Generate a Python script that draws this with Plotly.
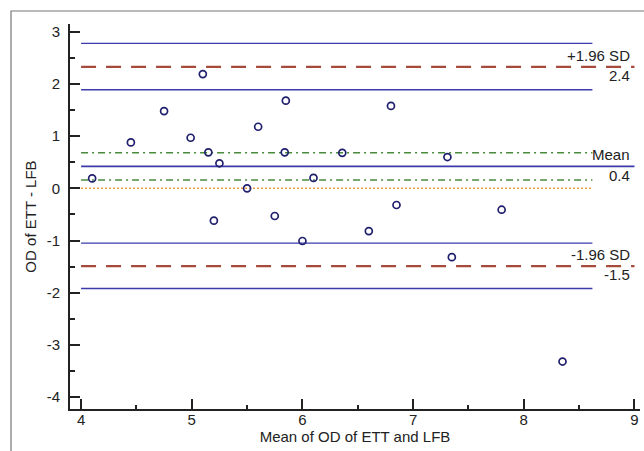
import plotly.graph_objects as go

# Data (Bland-Altman plot)
mean_x = [4.10, 4.45, 4.75, 4.99, 5.10, 5.15, 5.25, 5.20, 5.50, 5.60, 5.75, 5.85,
          5.84, 6.00, 6.10, 6.36, 6.60, 6.80, 6.85, 7.31, 7.35, 7.80, 8.35]
diff_y = [0.19, 0.88, 1.48, 0.97, 2.19, 0.69, 0.48, -0.62, 0.00, 1.18, -0.53, 1.68,
          0.69, -1.01, 0.20, 0.68, -0.82, 1.58, -0.32, 0.60, -1.32, -0.41, -3.32]

mean_diff = 0.42
upper_loa = 2.33
lower_loa = -1.49
mean_ci = [0.16, 0.68]
upper_ci = [1.89, 2.78]
lower_ci = [-1.92, -1.05]
zero_line = 0.0

x_start = 4.0
x_ci_end = 8.62
x_full_end = 9.0

x_ticks = [4, 5, 6, 7, 8, 9]
x_tick_text = ["4", "5", "6", "7", "8", "9"]
y_ticks = [-4, -3, -2, -1, 0, 1, 2, 3]
y_tick_text = ["-4", "-3", "-2", "-1", "0", "1", "2", "3"]

labels = [("+1.96 SD", 2.54), ("2.4", 2.16), ("Mean", 0.64), ("0.4", 0.24),
          ("-1.96 SD", -1.26), ("-1.5", -1.66)]

BLUE = "#3b3bab"
RED = "#a64b3c"
GREEN = "#4a8a3c"
ORANGE = "#e89a3c"
FONT = "Liberation Sans, Arial, sans-serif"

fig = go.Figure()

def hline(y, x0, x1, color, width, dash):
    fig.add_trace(go.Scatter(x=[x0, x1], y=[y, y], mode="lines",
                             line=dict(color=color, width=width, dash=dash),
                             hoverinfo="skip", showlegend=False))

for v in upper_ci + lower_ci:
    hline(v, x_start, x_ci_end, BLUE, 1.3, "solid")
hline(mean_diff, x_start, x_full_end, BLUE, 1.9, "solid")
for v in mean_ci:
    hline(v, x_start, x_ci_end, GREEN, 1.5, "7px,4px,2px,4px")
hline(zero_line, x_start, x_ci_end, ORANGE, 1.5, "2px,2px")
for v in [upper_loa, lower_loa]:
    hline(v, x_start, x_full_end, RED, 2.3, "15px,10px")

fig.add_trace(go.Scatter(x=mean_x, y=diff_y, mode="markers",
                         marker=dict(symbol="circle-open", size=7,
                                     line=dict(color="#1f1f6e", width=1.7),
                                     color="#1f1f6e"),
                         showlegend=False))

for txt, yv in labels:
    fig.add_annotation(x=8.98, y=yv, text=txt, showarrow=False, xanchor="right",
                       yanchor="middle", font=dict(family=FONT, size=15, color="#222"))

# outer frame
L, T, R, B = 70, 24, 4, 42
pw, ph = 644 - L - R, 451 - T - B
fig.add_shape(type="rect", xref="paper", yref="paper",
              x0=(11 - L) / pw, x1=(660 - L) / pw,
              y0=(451 - B - 470) / ph, y1=(451 - B - 11) / ph,
              line=dict(color="#777", width=1.2), fillcolor="rgba(0,0,0,0)")

fig.update_layout(
    width=644, height=451,
    margin=dict(l=L, r=R, t=T, b=B),
    paper_bgcolor="white", plot_bgcolor="white",
    font=dict(family=FONT, size=15, color="#222"),
    xaxis=dict(range=[3.9, 9.05], tickvals=x_ticks, ticktext=x_tick_text,
               ticks="inside", ticklen=10, ticklabelstandoff=-4,
               tickwidth=2, tickcolor="#222", showline=True, linewidth=2,
               linecolor="#222", showgrid=False, zeroline=False,
               minor=dict(dtick=0.5, tick0=4, ticks="inside", ticklen=4,
                          tickwidth=1.5, tickcolor="#222", showgrid=False),
               title=dict(text="Mean of OD of ETT and LFB", font=dict(size=15),
                          standoff=2),
               tickfont=dict(size=15)),
    yaxis=dict(range=[-4.23, 3.15], tickvals=y_ticks, ticktext=y_tick_text,
               ticks="inside", ticklen=10, ticklabelstandoff=5,
               tickwidth=2, tickcolor="#222", showline=True, linewidth=2,
               linecolor="#222", showgrid=False, zeroline=False,
               minor=dict(dtick=0.5, tick0=0, ticks="inside", ticklen=5,
                          tickwidth=1.5, tickcolor="#222", showgrid=False),
               title=dict(text="OD of ETT - LFB", font=dict(size=15), standoff=6),
               tickfont=dict(size=15)),
)

fig.write_html("out.html")
